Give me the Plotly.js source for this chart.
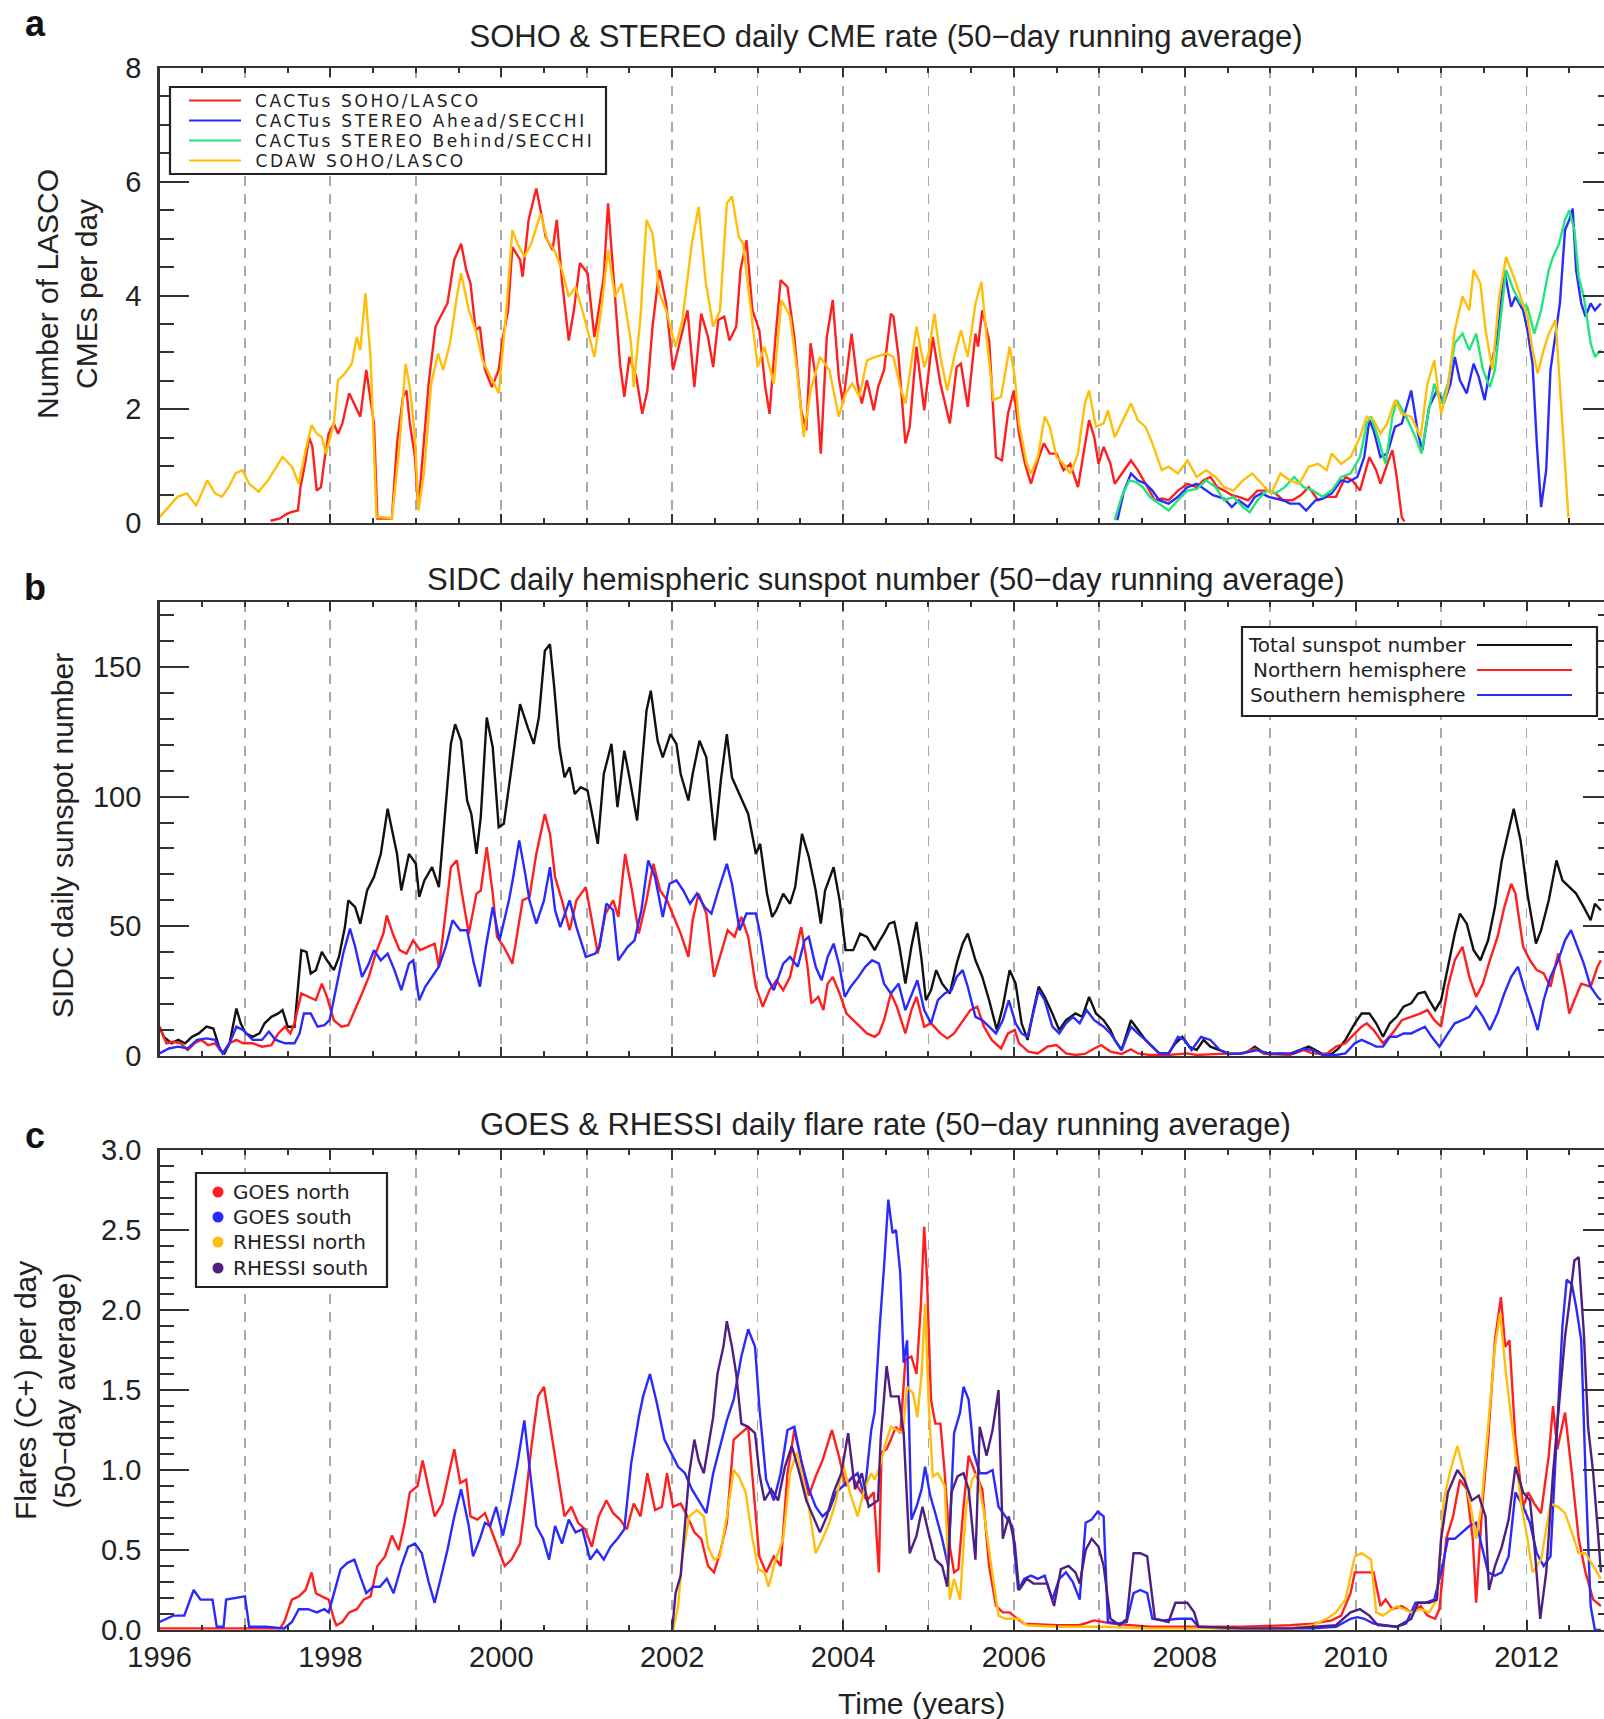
<!DOCTYPE html>
<html>
<head>
<meta charset="utf-8">
<script src="https://cdn.plot.ly/plotly-3.0.1.min.js"></script>
<style>
html, body { margin: 0; padding: 0; background: #fff; overflow: hidden; }
#chart { width: 1614px; height: 1719px; }
</style>
</head>
<body>
<div id="chart"></div>
<script>
// ---------------- Panel a: daily CME rate ----------------
const cactusSohoT = [1997.30,1997.41,1997.49,1997.54,1997.62,1997.65,1997.71,1997.75,1997.79,1997.84,1997.89,1997.93,1997.98,
1998.04,1998.09,1998.14,1998.22,1998.28,1998.35,1998.42,1998.47,1998.51,1998.55,1998.72,1998.78,1998.85,1998.89,1998.93,1998.99,
1999.03,1999.15,1999.23,1999.29,1999.37,1999.45,1999.53,1999.59,1999.64,1999.70,1999.75,1999.81,1999.89,1999.97,
2000.02,2000.08,2000.13,2000.22,2000.25,2000.32,2000.41,2000.46,2000.52,2000.60,2000.65,2000.71,2000.79,2000.85,2000.92,
2001.01,2001.09,2001.14,2001.20,2001.25,2001.31,2001.39,2001.44,2001.50,2001.58,2001.65,2001.71,2001.77,2001.85,2001.93,
2002.01,2002.10,2002.18,2002.26,2002.34,2002.42,2002.48,2002.54,2002.61,2002.67,2002.75,2002.80,2002.87,2002.94,
2003.02,2003.09,2003.14,2003.21,2003.27,2003.35,2003.43,2003.51,2003.57,2003.62,2003.68,2003.74,2003.81,2003.88,2003.95,
2004.00,2004.06,2004.10,2004.17,2004.22,2004.28,2004.36,2004.41,
2004.48,2004.56,2004.59,2004.65,2004.73,2004.78,2004.86,2004.95,
2005.05,2005.14,2005.25,2005.33,2005.38,2005.46,2005.55,2005.58,2005.63,2005.71,2005.79,2005.86,2005.93,
2006.00,2006.06,2006.13,2006.20,2006.28,2006.35,2006.42,2006.50,2006.58,2006.66,2006.75,2006.83,2006.88,2006.94,2006.99,
2007.05,2007.13,2007.18,2007.26,2007.37,2007.45,2007.54,2007.65,2007.73,2007.81,2007.92,
2008.03,2008.14,2008.22,2008.30,2008.38,2008.46,2008.55,2008.63,2008.74,2008.85,2008.96,
2009.06,2009.15,2009.26,2009.36,2009.45,2009.56,2009.66,2009.77,2009.88,2009.96,
2010.05,2010.16,2010.24,2010.29,2010.37,2010.43,2010.48,2010.54,2010.57];
const cactusSohoV = [0.04,0.08,0.16,0.19,0.22,0.63,1.10,1.51,1.34,0.57,0.63,1.10,1.57,
1.75,1.57,1.75,2.28,2.10,1.87,2.69,2.16,1.75,0.08,0.08,1.40,2.22,2.33,1.75,1.16,
0.25,2.45,3.45,3.63,3.86,4.63,4.91,4.45,4.21,3.39,3.45,2.69,2.39,2.69,
3.27,3.74,4.85,4.63,4.33,5.33,5.88,5.50,5.03,4.80,5.33,4.27,3.21,3.74,4.57,
4.39,3.27,3.74,4.33,5.62,4.45,2.80,2.22,2.92,2.57,1.92,2.33,3.45,4.45,3.86,
2.69,3.27,3.74,2.39,3.68,3.27,2.74,3.57,3.63,3.21,3.45,4.45,4.97,3.74,
3.39,2.39,1.92,3.27,4.27,4.15,3.27,1.98,1.63,3.16,2.57,1.22,3.27,3.92,2.57,
2.10,2.80,3.33,2.45,2.10,2.51,1.98,2.39,
2.69,3.68,3.63,2.92,1.40,1.69,3.10,1.98,
3.27,2.45,1.75,2.74,2.80,2.04,3.33,3.10,3.74,3.21,1.16,1.10,1.92,
2.33,1.57,1.04,0.69,1.10,1.40,1.22,1.22,0.93,1.04,0.63,1.34,1.81,1.51,1.04,
1.34,1.04,0.69,0.87,1.10,0.93,0.69,0.40,0.43,0.40,0.57,
0.69,0.63,0.75,0.81,0.63,0.57,0.49,0.46,0.40,0.57,0.57,
0.52,0.40,0.40,0.49,0.63,0.40,0.46,0.46,0.81,0.75,
0.57,1.16,0.93,0.69,1.04,1.28,0.81,0.10,0.03];

const stereoAT = [2007.21,2007.29,2007.37,2007.45,2007.54,2007.62,2007.70,2007.81,2007.92,
2008.03,2008.14,2008.22,2008.33,2008.46,2008.55,2008.63,2008.74,2008.82,2008.90,2008.98,
2009.06,2009.15,2009.23,2009.34,2009.42,2009.53,2009.61,2009.72,2009.83,2009.91,
2010.02,2010.10,2010.16,2010.21,2010.29,2010.37,2010.46,2010.54,2010.65,2010.73,2010.78,2010.86,2010.95,
2011.03,2011.11,2011.16,2011.22,2011.30,2011.38,2011.44,2011.51,2011.57,2011.66,2011.74,2011.82,2011.87,2011.96,
2012.01,2012.07,2012.12,2012.17,2012.23,2012.28,2012.34,2012.39,2012.45,2012.50,2012.54,2012.58,2012.64,2012.69,2012.75,2012.80,2012.87];
const stereoAV = [0.05,0.57,0.87,0.75,0.69,0.57,0.40,0.34,0.46,
0.63,0.69,0.60,0.49,0.43,0.28,0.40,0.28,0.46,0.52,0.46,
0.43,0.40,0.34,0.34,0.22,0.40,0.43,0.52,0.75,0.72,
0.81,1.16,1.81,1.63,1.16,1.22,1.69,1.75,2.33,1.57,1.28,2.04,2.33,
2.10,2.45,2.92,2.51,2.28,2.80,2.57,2.16,2.69,3.27,4.45,3.80,3.98,3.74,
3.39,2.80,1.40,0.28,0.93,2.69,3.33,3.86,5.15,5.33,5.53,4.45,3.86,3.63,3.86,3.74,3.86];

const stereoBT = [2007.18,2007.26,2007.35,2007.43,2007.51,2007.59,2007.70,2007.81,2007.92,
2008.03,2008.14,2008.25,2008.36,2008.46,2008.57,2008.68,2008.76,2008.85,2008.96,
2009.06,2009.17,2009.28,2009.39,2009.50,2009.61,2009.72,2009.83,2009.94,
2010.05,2010.13,2010.18,2010.26,2010.35,2010.43,2010.48,2010.59,2010.70,2010.77,2010.84,2010.92,
2011.00,2011.08,2011.16,2011.25,2011.33,2011.41,2011.49,2011.57,2011.63,2011.71,2011.76,2011.85,2011.93,
2012.01,2012.09,2012.17,2012.26,2012.31,2012.38,2012.45,2012.50,2012.56,2012.61,2012.67,2012.75,2012.80,2012.87];
const stereoBV = [0.05,0.46,0.75,0.72,0.63,0.46,0.34,0.22,0.40,
0.57,0.60,0.75,0.63,0.40,0.46,0.28,0.19,0.40,0.57,
0.52,0.63,0.81,0.63,0.57,0.46,0.57,0.81,0.87,
1.16,1.75,1.87,1.51,1.04,1.87,2.16,1.87,1.51,1.22,1.87,2.45,
2.10,2.45,3.16,3.33,3.04,3.33,2.69,2.39,2.69,3.74,4.45,4.09,3.86,
3.80,3.33,3.74,4.45,4.68,4.91,5.33,5.50,5.15,4.33,3.98,3.16,2.92,3.04];

const cdawT = [1996.00,1996.10,1996.21,1996.32,1996.43,1996.56,1996.65,1996.73,1996.81,1996.89,1996.97,
1997.05,1997.16,1997.27,1997.44,1997.55,1997.63,1997.71,1997.78,1997.84,1997.90,1997.95,
1998.04,1998.09,1998.17,1998.25,1998.31,1998.35,1998.41,1998.47,1998.54,1998.61,1998.72,1998.80,1998.88,1998.93,1998.99,
1999.03,1999.10,1999.18,1999.26,1999.32,1999.40,1999.48,1999.53,1999.62,1999.70,1999.78,1999.89,1999.97,
2000.05,2000.13,2000.19,2000.27,2000.35,2000.46,2000.54,2000.62,2000.71,2000.79,2000.87,2000.98,
2001.09,2001.17,2001.25,2001.33,2001.41,2001.52,2001.55,2001.63,2001.70,2001.77,2001.85,2001.93,
2002.04,2002.12,2002.23,2002.31,2002.39,2002.48,2002.56,2002.64,2002.70,2002.78,2002.83,2002.91,
2003.00,2003.08,2003.19,2003.28,2003.38,2003.46,2003.54,2003.62,2003.73,2003.84,2003.95,
2004.03,2004.11,2004.19,2004.28,2004.38,
2004.51,2004.59,2004.67,2004.73,2004.81,2004.86,2004.95,
2005.00,2005.07,2005.14,2005.22,2005.30,2005.38,2005.46,2005.55,2005.62,2005.68,2005.76,2005.85,2005.95,
2006.01,2006.06,2006.15,2006.20,2006.28,2006.36,2006.42,2006.50,2006.58,2006.66,2006.75,2006.83,2006.88,2006.96,
2007.05,2007.10,2007.18,2007.26,2007.37,2007.45,2007.54,2007.62,2007.73,2007.81,2007.92,
2008.03,2008.14,2008.25,2008.36,2008.46,2008.57,2008.68,2008.79,2008.90,
2009.01,2009.12,2009.23,2009.34,2009.45,2009.56,2009.66,2009.72,2009.83,2009.94,
2010.05,2010.13,2010.21,2010.29,2010.37,2010.46,2010.54,2010.65,2010.76,2010.84,2010.92,
2011.00,2011.08,2011.16,2011.25,2011.33,2011.38,2011.46,2011.52,2011.60,2011.68,2011.76,2011.85,2011.93,
2012.01,2012.07,2012.13,2012.20,2012.26,2012.34,2012.39,2012.45,2012.49];
const cdawV = [0.10,0.28,0.46,0.52,0.31,0.75,0.52,0.46,0.63,0.87,0.93,
0.69,0.55,0.75,1.16,0.99,0.69,1.28,1.72,1.57,1.51,1.22,
1.75,2.51,2.63,2.80,3.27,3.04,4.04,2.92,0.10,0.10,0.08,1.22,2.80,2.39,1.51,
0.22,0.93,2.45,2.98,2.69,3.16,3.98,4.39,3.74,3.39,2.86,2.51,2.28,
3.57,5.15,4.91,4.68,4.91,5.44,4.97,4.80,4.45,3.98,4.15,3.57,
2.92,3.74,4.80,3.98,4.21,3.16,2.39,3.63,5.33,5.09,4.04,3.74,
3.10,3.57,4.91,5.56,4.27,3.45,3.74,5.62,5.74,5.03,4.91,3.86,
2.74,3.10,2.45,3.92,3.63,2.69,1.51,2.33,2.92,2.69,1.87,
2.28,2.45,2.22,2.86,2.92,
2.98,2.92,2.39,2.10,2.92,3.45,2.74,
2.98,3.68,2.92,2.33,2.92,3.39,2.92,3.86,4.24,3.27,2.16,2.22,3.10,
2.57,1.75,1.04,0.87,1.16,1.87,1.69,1.16,1.04,0.87,1.22,2.10,2.33,1.69,
1.75,1.98,1.51,1.75,2.10,1.81,1.69,1.40,0.93,0.99,0.87,
1.10,0.81,0.93,0.81,0.63,0.57,0.75,0.87,0.69,
0.52,0.87,0.75,0.69,0.99,1.04,0.93,1.22,1.04,1.16,
1.51,1.87,1.81,1.57,1.75,2.16,1.92,1.87,1.51,2.45,2.86,
1.92,2.39,3.39,3.98,3.74,4.45,4.21,3.39,2.69,3.98,4.68,4.33,3.98,
3.63,3.04,2.63,3.04,3.33,3.57,2.39,0.93,0.10];

// ---------------- Panel b: sunspot numbers ----------------
const totalT = [1996.00,1996.05,1996.14,1996.22,1996.30,1996.38,1996.46,1996.55,1996.63,1996.71,1996.76,1996.82,1996.90,1996.95,
1997.01,1997.09,1997.17,1997.23,1997.31,1997.39,1997.44,1997.50,1997.58,1997.66,1997.72,1997.77,1997.83,1997.90,1997.96,
1998.04,1998.10,1998.17,1998.21,1998.29,1998.35,1998.43,1998.51,1998.59,1998.67,1998.73,1998.78,1998.83,1998.92,
1999.00,1999.04,1999.10,1999.19,1999.27,1999.32,1999.41,1999.46,1999.53,1999.60,1999.65,1999.71,1999.76,1999.83,1999.90,1999.97,
2000.03,2000.11,2000.22,2000.31,2000.38,2000.44,2000.51,2000.57,2000.62,2000.68,2000.74,2000.80,2000.86,2000.93,
2001.01,2001.07,2001.13,2001.20,2001.29,2001.36,2001.44,2001.50,2001.59,2001.70,2001.75,2001.83,2001.89,2001.98,
2002.05,2002.10,2002.19,2002.24,2002.32,2002.40,2002.50,2002.57,2002.64,2002.70,2002.79,2002.89,2002.98,
2003.03,2003.11,2003.17,2003.22,2003.30,2003.38,2003.44,2003.52,2003.60,2003.68,2003.74,2003.79,2003.89,2003.96,
2004.03,2004.12,2004.20,2004.28,2004.37,2004.42,
2004.48,2004.54,2004.60,2004.66,2004.73,2004.80,2004.86,2004.92,2004.97,
2005.03,2005.09,2005.16,2005.25,2005.33,2005.40,2005.46,2005.55,2005.63,2005.71,2005.80,2005.87,2005.95,
2006.02,2006.09,2006.16,2006.23,2006.29,2006.36,2006.45,2006.53,2006.61,2006.72,2006.80,2006.88,2006.96,
2007.05,2007.13,2007.18,2007.26,2007.37,2007.45,2007.54,2007.62,2007.70,2007.81,2007.89,2007.97,
2008.05,2008.14,2008.22,2008.30,2008.41,2008.52,2008.63,2008.74,2008.82,2008.90,
2009.01,2009.12,2009.23,2009.34,2009.45,2009.53,2009.61,2009.72,2009.80,2009.88,2009.99,
2010.07,2010.16,2010.24,2010.32,2010.40,2010.48,2010.56,2010.65,2010.73,2010.81,2010.86,2010.93,
2011.00,2011.08,2011.16,2011.22,2011.30,2011.38,2011.46,2011.55,2011.63,2011.71,2011.79,2011.85,2011.93,
2012.01,2012.11,2012.17,2012.26,2012.35,2012.42,2012.50,2012.58,2012.67,2012.75,2012.80,2012.87];
const totalV = [11.3,7.4,4.9,6.2,4.9,7.4,8.7,11.3,10.6,2.3,1.0,4.9,18.3,12.6,
8.7,7.4,8.7,12.6,15.1,16.4,17.7,11.3,11.3,40.8,40.1,31.8,33.1,40.1,36.9,
33.1,38.2,49.7,60.0,57.4,51.0,63.8,69.0,77.9,95.3,85.6,77.9,63.8,77.9,
74.1,61.3,67.7,72.8,65.1,85.6,120.3,127.9,121.5,98.5,93.3,77.9,92.1,130.5,119.0,88.2,
89.5,108.7,135.6,126.7,120.3,130.5,156.2,158.7,142.1,119.0,107.4,111.3,101.0,103.6,
102.3,92.1,81.8,108.7,120.3,95.9,117.7,107.4,90.8,133.1,140.8,121.5,115.1,124.1,
120.3,108.7,98.5,108.7,121.5,115.1,83.1,106.2,124.1,107.4,101.0,93.3,77.9,
81.8,62.6,53.6,56.2,62.6,58.7,65.1,85.6,76.7,63.8,51.0,63.8,72.8,60.0,
40.8,40.8,47.2,45.9,40.8,44.0,
47.2,51.0,51.7,42.1,27.9,42.1,51.7,36.9,21.5,
25.4,33.1,27.9,24.1,35.6,43.3,47.2,36.9,30.5,21.5,10.0,19.0,33.1,
27.9,12.6,6.2,17.7,26.7,22.8,16.4,10.0,13.8,16.4,15.1,22.8,16.4,
13.8,10.0,6.2,2.3,13.8,10.0,6.2,3.6,1.0,1.0,4.9,7.4,
3.6,2.3,6.2,3.6,2.3,0.8,0.8,1.7,3.6,1.7,
0.8,1.0,0.8,2.3,3.6,2.3,0.8,0.8,2.9,6.2,12.6,
16.4,16.4,12.6,7.4,12.6,15.1,19.0,20.3,24.1,24.7,21.5,17.7,
21.5,34.4,47.2,54.9,51.0,40.8,36.9,44.6,57.4,75.4,86.9,95.3,83.1,
62.6,43.3,48.5,60.0,75.4,67.7,65.1,62.6,57.4,52.3,58.7,56.2];

const northT = [1996.00,1996.08,1996.16,1996.25,1996.33,1996.41,1996.49,1996.57,1996.65,1996.74,1996.82,1996.90,1996.98,
1997.09,1997.20,1997.31,1997.39,1997.47,1997.53,1997.58,1997.66,1997.74,1997.83,1997.90,1997.96,
1998.04,1998.13,1998.21,1998.29,1998.37,1998.45,1998.53,1998.62,1998.66,1998.73,1998.81,1998.89,1998.97,
1999.05,1999.13,1999.22,1999.27,1999.32,1999.41,1999.48,1999.54,1999.62,1999.71,1999.76,1999.83,1999.90,1999.95,
2000.03,2000.13,2000.20,2000.25,2000.33,2000.41,2000.51,2000.57,2000.63,2000.71,2000.80,2000.88,2000.99,
2001.07,2001.13,2001.22,2001.31,2001.37,2001.45,2001.53,2001.61,2001.70,2001.78,2001.86,2001.94,
2002.02,2002.10,2002.19,2002.24,2002.31,2002.40,2002.49,2002.57,2002.65,2002.73,2002.81,2002.89,2002.98,
2003.06,2003.14,2003.22,2003.30,2003.38,2003.44,2003.51,2003.58,2003.63,2003.71,2003.77,2003.82,2003.88,2003.96,
2004.04,2004.12,2004.20,2004.28,2004.37,2004.42,
2004.48,2004.56,2004.63,2004.73,2004.80,2004.86,2004.95,
2005.03,2005.14,2005.22,2005.30,2005.41,2005.49,2005.57,2005.65,2005.74,2005.85,2005.93,
2006.01,2006.06,2006.17,2006.28,2006.39,2006.50,2006.61,2006.72,2006.83,2006.94,
2007.02,2007.13,2007.26,2007.37,2007.45,2007.59,2007.81,
2008.03,2008.14,2008.41,2008.68,2008.82,2008.93,
2009.23,2009.39,2009.50,2009.66,2009.77,2009.88,2009.99,
2010.07,2010.13,2010.21,2010.32,2010.43,2010.54,2010.65,2010.76,2010.84,2010.92,
2011.00,2011.08,2011.16,2011.25,2011.33,2011.41,2011.49,2011.57,2011.66,2011.74,2011.82,2011.87,2011.96,
2012.04,2012.12,2012.20,2012.28,2012.37,2012.45,2012.50,2012.56,2012.64,2012.75,2012.83,2012.87];
const northV = [11.3,4.9,5.5,4.9,2.3,4.9,6.2,4.2,4.9,1.0,4.9,6.2,4.9,
4.9,3.6,4.2,8.7,11.3,8.7,12.6,24.1,22.8,21.5,27.9,22.8,
13.8,11.3,11.9,17.7,24.1,30.5,39.5,47.2,54.2,47.2,40.8,39.5,44.6,
40.8,42.1,43.3,34.4,47.2,72.8,75.4,62.6,47.2,62.6,63.8,80.5,62.6,45.9,
42.1,35.6,49.7,60.0,61.3,77.9,93.3,85.6,69.0,60.0,48.5,60.0,65.1,
51.0,39.5,54.9,60.0,53.6,77.9,63.8,47.2,60.0,74.1,63.8,60.0,
53.6,47.2,38.2,52.3,62.6,54.9,30.5,39.5,48.5,45.9,53.6,45.9,26.7,
19.0,25.4,29.2,25.4,30.5,39.5,49.7,35.6,20.3,22.8,17.7,27.9,30.5,24.1,
16.4,13.8,11.3,8.7,7.4,8.7,
13.8,24.1,19.0,8.7,17.7,22.8,11.3,
12.6,8.7,6.8,8.7,13.8,17.7,19.0,11.3,6.2,2.9,8.7,
10.0,4.9,1.7,1.0,3.6,4.2,1.0,0.4,0.8,2.9,
4.2,1.7,0.8,2.6,1.0,0.4,0.4,
1.0,0.4,0.8,1.0,2.9,0.8,
0.4,2.3,1.0,0.8,3.6,4.9,8.7,
11.3,12.6,10.0,4.9,8.7,13.8,15.1,16.4,17.7,13.8,
11.3,26.7,36.9,42.1,30.5,22.8,27.9,36.9,45.9,57.4,66.4,62.6,42.1,
36.9,33.1,31.8,26.7,39.5,26.7,16.4,21.5,27.9,26.7,34.4,36.9];

const southT = [1996.00,1996.11,1996.22,1996.33,1996.44,1996.55,1996.65,1996.74,1996.82,1996.90,1996.98,
1997.09,1997.20,1997.28,1997.36,1997.47,1997.58,1997.64,1997.69,1997.77,1997.85,1997.93,1997.99,
1998.07,1998.15,1998.23,1998.29,1998.37,1998.45,1998.51,1998.59,1998.67,1998.75,1998.83,1998.92,1998.97,
1999.04,1999.11,1999.19,1999.27,1999.35,1999.43,1999.52,1999.60,1999.68,1999.75,1999.82,1999.90,1999.98,
2000.09,2000.14,2000.21,2000.28,2000.33,2000.41,2000.50,2000.57,2000.63,2000.69,2000.80,2000.88,2000.99,
2001.10,2001.15,2001.23,2001.31,2001.37,2001.48,2001.56,2001.64,2001.72,2001.80,2001.89,2001.97,
2002.05,2002.13,2002.21,2002.29,2002.38,2002.46,2002.54,2002.64,2002.70,2002.79,2002.87,2002.98,
2003.03,2003.11,2003.19,2003.30,2003.38,2003.47,2003.55,2003.60,2003.68,2003.75,2003.82,2003.89,2003.96,
2004.02,2004.09,2004.18,2004.26,2004.34,2004.42,
2004.48,2004.56,2004.65,2004.73,2004.81,2004.87,2004.95,
2005.03,2005.11,2005.19,2005.27,2005.33,2005.40,2005.46,2005.55,2005.63,2005.71,2005.79,2005.87,2005.94,
2006.02,2006.09,2006.16,2006.23,2006.29,2006.36,2006.45,2006.53,2006.61,2006.69,2006.77,2006.85,2006.94,
2007.05,2007.13,2007.18,2007.26,2007.37,2007.45,2007.54,2007.62,2007.70,2007.81,2007.92,
2008.00,2008.08,2008.19,2008.30,2008.41,2008.52,2008.68,2008.85,2008.96,
2009.12,2009.28,2009.39,2009.50,2009.61,2009.77,2009.88,2009.99,
2010.07,2010.16,2010.24,2010.32,2010.40,2010.48,2010.56,2010.65,2010.73,2010.81,2010.89,2010.98,
2011.08,2011.16,2011.25,2011.33,2011.41,2011.49,2011.57,2011.66,2011.74,2011.82,2011.90,2011.98,
2012.07,2012.13,2012.20,2012.28,2012.37,2012.45,2012.52,2012.58,2012.67,2012.75,2012.83,2012.87];
const southV = [1.0,2.9,3.6,2.9,6.2,6.8,6.2,1.0,4.9,11.3,10.0,
6.2,6.2,9.4,6.2,4.9,4.9,8.7,16.4,16.4,11.3,11.9,13.8,
26.7,39.5,49.1,42.1,30.5,35.6,40.8,36.9,39.5,33.1,25.4,35.6,36.9,
21.5,26.7,30.5,34.4,42.1,52.3,48.5,48.5,35.6,26.7,42.1,57.4,44.6,
60.0,69.0,83.1,70.3,60.0,51.0,60.0,72.8,56.2,49.7,60.0,49.7,38.2,
39.5,42.1,58.7,56.2,36.9,42.1,44.6,56.2,75.4,69.0,53.6,66.4,
67.7,63.8,58.7,62.6,57.4,54.9,63.8,74.1,66.4,48.5,54.9,54.9,
47.2,30.5,25.4,35.6,38.2,34.4,44.6,45.9,34.4,29.2,38.2,43.3,34.4,
22.8,26.7,30.5,34.4,36.9,35.6,
27.9,24.1,27.9,17.7,24.1,29.2,17.7,
12.6,21.5,24.1,25.4,30.5,33.1,26.7,15.1,13.8,11.3,8.7,13.8,21.5,
12.6,8.7,7.4,17.7,25.4,21.5,11.3,8.7,12.6,15.1,12.6,17.7,13.8,
11.3,8.7,6.2,2.3,11.3,8.7,6.2,3.6,1.0,0.8,7.4,
6.2,2.3,7.4,6.2,2.3,0.8,1.0,2.3,1.0,
0.8,1.0,2.9,2.3,0.4,0.4,1.0,4.9,
6.2,4.9,3.6,3.6,7.4,7.4,8.7,8.7,10.0,11.3,7.4,3.6,
8.7,12.6,13.8,15.1,19.0,15.1,10.0,16.4,24.1,30.5,34.4,25.4,
16.4,10.0,21.5,30.5,36.9,44.6,48.5,43.3,35.6,26.7,22.8,21.5];

// ---------------- Panel c: flare rates ----------------
const goesNorthT = [1996.00,1996.21,1996.43,1996.97,
1997.41,1997.46,1997.55,1997.63,1997.71,1997.78,1997.83,1997.90,1997.98,
1998.04,1998.07,1998.14,1998.22,1998.31,1998.39,1998.47,1998.55,1998.64,1998.72,1998.80,1998.87,1998.93,
1999.02,1999.08,1999.15,1999.22,1999.31,1999.37,1999.45,1999.52,1999.59,1999.64,1999.72,1999.81,1999.89,1999.97,
2000.04,2000.12,2000.22,2000.27,2000.35,2000.43,2000.50,2000.57,2000.65,2000.74,2000.82,2000.90,2000.98,
2001.06,2001.14,2001.23,2001.31,2001.39,2001.47,2001.55,2001.63,2001.71,2001.80,2001.88,2001.94,
2002.01,2002.10,2002.18,2002.26,2002.34,2002.42,2002.49,2002.56,2002.64,2002.72,2002.81,2002.89,2002.97,
2003.02,2003.10,2003.19,2003.27,2003.35,2003.43,2003.51,2003.60,2003.68,2003.76,2003.87,2003.95,
2004.03,2004.11,2004.19,2004.28,2004.36,
2004.42,2004.45,2004.51,2004.56,2004.62,2004.67,2004.73,2004.80,2004.86,2004.91,2004.95,2004.98,
2005.03,2005.08,2005.14,2005.19,2005.25,2005.30,2005.35,2005.41,2005.47,2005.55,2005.63,2005.71,2005.79,2005.87,2005.95,
2006.04,2006.12,2006.50,2006.77,2006.94,
2007.15,2007.59,2008.14,2008.68,2009.23,2009.50,2009.72,2009.83,2009.94,2009.99,
2010.07,2010.21,2010.29,2010.35,2010.43,2010.54,2010.65,2010.76,2010.84,2010.93,2010.98,
2011.06,2011.14,2011.22,2011.30,2011.37,2011.41,2011.48,2011.55,2011.63,2011.70,2011.75,2011.80,2011.87,2011.96,
2012.02,2012.09,2012.17,2012.26,2012.31,2012.36,2012.45,2012.53,2012.61,2012.69,2012.78,2012.87];
const goesNorthV = [0.01,0.01,0.01,0.01,
0.01,0.05,0.19,0.21,0.25,0.36,0.23,0.21,0.19,
0.07,0.03,0.05,0.11,0.13,0.19,0.21,0.40,0.46,0.59,0.50,0.67,0.86,
0.90,1.06,0.88,0.71,0.79,0.94,1.13,0.92,0.94,0.71,0.69,0.73,0.61,0.50,
0.40,0.44,0.54,0.75,1.13,1.46,1.52,1.29,1.00,0.71,0.77,0.67,0.63,
0.52,0.71,0.81,0.73,0.69,0.63,0.79,0.71,0.98,0.75,0.77,0.98,
0.77,0.79,0.71,0.61,0.57,0.40,0.36,0.48,0.67,1.19,1.23,1.27,0.77,
0.46,0.36,0.46,0.40,0.98,1.25,1.06,0.84,0.96,1.06,1.25,1.09,
0.90,0.96,0.88,0.81,0.86,
0.36,1.11,1.13,1.19,1.27,1.23,1.69,1.71,1.60,2.02,2.52,2.23,
1.44,1.29,1.29,0.98,0.52,0.36,0.38,0.77,1.09,0.98,0.88,0.40,0.15,0.11,0.11,
0.07,0.04,0.03,0.03,0.06,
0.04,0.02,0.02,0.02,0.03,0.04,0.06,0.09,0.23,0.36,
0.36,0.36,0.15,0.19,0.13,0.15,0.11,0.15,0.09,0.07,0.13,
0.57,0.71,0.94,0.88,0.57,0.17,0.77,1.19,1.81,2.08,1.77,1.81,1.19,0.77,
0.86,0.79,0.73,1.09,1.40,1.13,1.36,0.98,0.57,0.36,0.19,0.15];

const goesSouthT = [1996.00,1996.16,1996.29,1996.40,1996.48,1996.62,1996.67,1996.75,1996.78,1996.89,
1997.00,1997.05,1997.25,1997.46,1997.55,1997.63,1997.74,1997.84,1997.93,1997.98,
1998.04,1998.12,1998.20,1998.28,1998.36,1998.42,1998.50,1998.58,1998.66,1998.74,1998.83,1998.91,1998.99,
1999.07,1999.15,1999.22,1999.29,1999.37,1999.45,1999.53,1999.62,1999.67,1999.75,1999.81,1999.87,1999.94,
2000.02,2000.11,2000.19,2000.27,2000.33,2000.41,2000.49,2000.56,2000.63,2000.71,2000.79,2000.87,2000.95,
2001.04,2001.12,2001.20,2001.28,2001.36,2001.44,2001.52,2001.61,2001.66,2001.74,2001.82,2001.91,2001.99,
2002.07,2002.15,2002.23,2002.31,2002.40,2002.48,2002.56,2002.64,2002.72,2002.81,2002.89,2002.97,
2003.02,2003.10,2003.19,2003.27,2003.35,2003.43,2003.51,2003.60,2003.68,2003.76,2003.84,2003.92,
2004.00,2004.08,2004.17,2004.25,2004.33,
2004.37,2004.43,2004.48,2004.53,2004.58,2004.62,2004.67,2004.71,2004.75,2004.80,2004.86,2004.92,2004.96,
2005.02,2005.08,2005.16,2005.23,2005.30,2005.37,2005.41,2005.47,2005.53,2005.60,2005.68,2005.75,2005.82,2005.90,2005.98,
2006.05,2006.12,2006.20,2006.28,2006.36,2006.45,2006.53,2006.61,2006.69,2006.77,2006.84,2006.91,2006.98,
2007.05,2007.10,2007.21,2007.32,2007.40,2007.48,2007.56,2007.62,2007.75,2007.92,
2008.08,2008.16,2008.41,2008.96,2009.50,2009.77,2009.94,
2010.02,2010.10,2010.21,2010.32,2010.48,2010.59,2010.70,2010.81,2010.92,
2011.00,2011.08,2011.16,2011.25,2011.33,2011.41,2011.48,2011.55,2011.63,2011.71,2011.79,2011.87,2011.96,
2012.04,2012.12,2012.20,2012.28,2012.37,2012.42,2012.47,2012.53,2012.58,2012.64,2012.69,2012.75,2012.80,2012.87];
const goesSouthV = [0.05,0.09,0.09,0.25,0.19,0.19,0.02,0.02,0.19,0.20,
0.21,0.02,0.02,0.01,0.05,0.13,0.13,0.11,0.13,0.11,
0.23,0.38,0.42,0.44,0.32,0.23,0.27,0.27,0.32,0.23,0.40,0.52,0.54,
0.48,0.30,0.17,0.32,0.50,0.71,0.88,0.65,0.46,0.57,0.67,0.65,0.77,
0.59,0.81,1.04,1.31,1.02,0.65,0.57,0.44,0.65,0.54,0.69,0.61,0.63,
0.44,0.50,0.44,0.52,0.57,0.63,1.04,1.33,1.46,1.60,1.42,1.19,1.11,
1.02,0.98,0.88,0.81,0.73,0.98,1.15,1.31,1.44,1.71,1.88,1.77,
1.40,0.94,0.81,0.98,1.25,1.27,1.06,0.88,0.77,0.71,0.75,0.86,
0.90,0.94,0.98,0.84,1.25,
1.36,1.90,2.27,2.69,2.48,2.50,2.23,1.67,1.81,0.69,0.77,0.88,1.02,
0.84,0.73,0.57,0.40,1.23,1.36,1.52,1.44,1.11,0.98,0.98,1.00,0.77,0.71,0.65,
0.25,0.32,0.34,0.32,0.34,0.19,0.32,0.36,0.30,0.19,0.67,0.69,0.74,
0.71,0.05,0.04,0.05,0.23,0.25,0.23,0.07,0.06,0.07,
0.07,0.02,0.01,0.01,0.01,0.02,0.07,
0.08,0.07,0.04,0.03,0.02,0.04,0.17,0.17,0.19,
0.36,0.57,0.57,0.61,0.65,0.67,0.52,0.36,0.34,0.36,0.46,0.86,0.77,
0.67,0.48,0.40,0.46,1.44,1.90,2.19,2.16,2.02,1.81,0.98,0.15,0.00,0.00];

const rhessiNorthT = [2002.01,2002.07,2002.12,2002.20,2002.29,2002.37,2002.42,2002.49,2002.56,2002.64,2002.72,2002.78,2002.86,2002.94,
2003.01,2003.08,2003.13,2003.21,2003.30,2003.38,2003.46,2003.51,2003.60,2003.68,2003.76,2003.84,2003.92,
2004.00,2004.08,2004.17,2004.25,2004.33,
2004.37,2004.43,2004.51,2004.56,2004.63,2004.70,2004.75,2004.82,2004.87,2004.92,2004.96,
2005.00,2005.05,2005.11,2005.19,2005.25,2005.30,2005.37,2005.44,2005.51,2005.57,2005.65,2005.73,2005.82,2005.90,
2006.06,2006.15,2006.50,2007.05,2007.59,2008.14,2008.68,2009.23,2009.50,2009.66,2009.77,2009.88,2009.99,
2010.07,2010.18,2010.24,2010.32,2010.48,2010.65,2010.76,2010.86,2010.95,
2011.03,2011.11,2011.19,2011.27,2011.36,2011.41,2011.47,2011.55,2011.63,2011.69,2011.76,2011.85,2011.93,
2012.01,2012.07,2012.17,2012.28,2012.37,2012.45,2012.53,2012.61,2012.69,2012.78,2012.87];
const rhessiNorthV = [0.00,0.15,0.46,0.71,0.75,0.71,0.52,0.44,0.46,0.71,1.00,0.96,0.86,0.57,
0.38,0.36,0.27,0.44,0.57,0.98,1.11,0.98,0.77,0.48,0.57,0.67,0.81,
1.04,0.86,0.71,0.88,0.98,
0.94,1.02,1.19,1.27,1.25,1.23,1.52,1.48,1.33,1.60,2.04,
1.44,0.96,0.98,0.90,0.19,0.32,0.19,0.77,0.94,0.98,0.73,0.42,0.09,0.07,
0.07,0.03,0.02,0.02,0.01,0.01,0.01,0.01,0.03,0.07,0.11,0.19,0.46,
0.48,0.44,0.11,0.09,0.15,0.11,0.13,0.11,0.19,
0.81,1.00,1.15,0.98,0.73,0.57,0.77,1.27,1.77,1.98,1.60,1.19,0.81,
0.57,0.36,0.44,0.79,0.77,0.73,0.61,0.48,0.48,0.40,0.32];

const rhessiSouthT = [2002.00,2002.04,2002.10,2002.15,2002.20,2002.26,2002.31,2002.37,2002.42,2002.48,2002.53,2002.60,2002.64,2002.70,2002.75,2002.81,2002.89,2002.97,
2003.02,2003.08,2003.16,2003.24,2003.32,2003.40,2003.49,2003.57,2003.65,2003.73,2003.81,2003.89,2003.98,
2004.06,2004.14,2004.22,2004.30,2004.41,
2004.44,2004.51,2004.56,2004.65,2004.71,2004.78,2004.86,2004.93,
2005.00,2005.08,2005.16,2005.22,2005.27,2005.34,2005.41,2005.47,2005.55,2005.60,2005.68,2005.75,2005.82,2005.87,2005.94,
2006.01,2006.06,2006.15,2006.23,2006.31,2006.39,2006.47,2006.55,2006.64,2006.72,2006.77,2006.84,2006.91,2006.99,
2007.05,2007.13,2007.24,2007.32,2007.40,2007.48,2007.56,2007.65,2007.81,2007.89,
2008.03,2008.11,2008.16,2008.68,2009.23,2009.50,2009.77,2009.94,
2010.05,2010.16,2010.26,2010.48,2010.65,2010.73,2010.86,2010.95,
2011.00,2011.08,2011.19,2011.27,2011.36,2011.44,2011.52,2011.56,2011.63,2011.71,2011.79,2011.87,2011.96,
2012.04,2012.09,2012.16,2012.23,2012.31,2012.39,2012.45,2012.50,2012.56,2012.61,2012.67,2012.72,2012.78,2012.83,2012.87];
const rhessiSouthV = [0.00,0.23,0.34,0.65,0.98,1.19,1.06,0.98,1.15,1.33,1.60,1.77,1.93,1.77,1.60,1.29,1.27,1.23,
0.98,0.81,0.88,0.81,1.02,1.15,0.98,0.81,0.71,0.61,0.71,0.86,0.98,
1.23,0.88,0.98,0.77,0.81,
1.19,1.65,1.46,1.46,1.23,0.48,0.59,0.77,
0.61,0.44,0.40,0.27,0.86,0.96,0.98,0.88,0.44,1.27,1.09,1.25,1.50,0.57,0.71,
0.54,0.25,0.32,0.29,0.29,0.29,0.15,0.38,0.40,0.36,0.29,0.50,0.57,0.52,
0.40,0.07,0.03,0.07,0.48,0.48,0.46,0.07,0.05,0.17,
0.17,0.11,0.02,0.01,0.01,0.02,0.03,0.11,
0.13,0.09,0.03,0.02,0.07,0.17,0.17,0.19,
0.57,0.86,1.00,0.94,0.81,0.84,0.71,0.25,0.40,0.52,0.69,1.02,0.86,
0.81,0.54,0.07,0.36,0.98,1.48,1.83,2.04,2.31,2.33,1.86,1.27,0.98,0.65,0.36];

// ---------------- labels ----------------
const titleA = 'SOHO & STEREO daily CME rate (50\u2212day running average)';
const titleB = 'SIDC daily hemispheric sunspot number (50\u2212day running average)';
const titleC = 'GOES & RHESSI daily flare rate (50\u2212day running average)';
const yTitleA = 'Number of LASCO<br>CMEs per day';
const yTitleB = 'SIDC daily sunspot number';
const yTitleC = 'Flares (C+) per day<br>(50\u2212day average)';
const xTitle = 'Time (years)';
const legendA = ['CACTus SOHO/LASCO', 'CACTus STEREO Ahead/SECCHI', 'CACTus STEREO Behind/SECCHI', 'CDAW SOHO/LASCO'];
const legendB = ['Total sunspot number', 'Northern hemisphere', 'Southern hemisphere'];
const legendC = ['GOES north', 'GOES south', 'RHESSI north', 'RHESSI south'];

// ---------------- styling / geometry ----------------
const W = 1614, H = 1719;
const PX = p => p / W;
const PY = p => 1 - p / H;
const RED = '#ff1f1f', BLUE = '#2a2aff', GREEN = '#22e57a', GOLD = '#ffbe0a', PURPLE = '#4e1f82', BLACK = '#111111';
const AX = '#333333';
const FONT = 'Liberation Sans, Arial, Helvetica, sans-serif';
const LFONT = 'DejaVu Sans, Liberation Sans, sans-serif';
const LW = 2.4;
const LEG_A_SPACING = 2.6;   // extra letter spacing (px) for the wide legend of panel a

function line(t, v, color, xa, ya) {
  return { type: 'scatter', mode: 'lines', x: t, y: v, xaxis: xa, yaxis: ya,
           line: { color: color, width: LW }, hoverinfo: 'skip', showlegend: false };
}

const traces = [
  line(cactusSohoT, cactusSohoV, RED, 'x', 'y'),
  line(stereoAT, stereoAV, BLUE, 'x', 'y'),
  line(stereoBT, stereoBV, GREEN, 'x', 'y'),
  line(cdawT, cdawV, GOLD, 'x', 'y'),
  line(totalT, totalV, BLACK, 'x2', 'y2'),
  line(northT, northV, RED, 'x2', 'y2'),
  line(southT, southV, BLUE, 'x2', 'y2'),
  line(goesNorthT, goesNorthV, RED, 'x3', 'y3'),
  line(goesSouthT, goesSouthV, BLUE, 'x3', 'y3'),
  line(rhessiNorthT, rhessiNorthV, GOLD, 'x3', 'y3'),
  line(rhessiSouthT, rhessiSouthV, PURPLE, 'x3', 'y3'),
  { type: 'scatter', x: [], y: [], xaxis: 'x4', yaxis: 'y', showlegend: false, hoverinfo: 'skip' },
  { type: 'scatter', x: [], y: [], xaxis: 'x5', yaxis: 'y2', showlegend: false, hoverinfo: 'skip' },
  { type: 'scatter', x: [], y: [], xaxis: 'x6', yaxis: 'y3', showlegend: false, hoverinfo: 'skip' }
];

const xDomain = [PX(159.5), PX(1612)];
const tickFont = { family: FONT, size: 29, color: '#222' };

function xAxis(anchor, plotH, labels) {
  return {
    domain: xDomain, anchor: anchor, range: [1996, 2013],
    tick0: 1996, dtick: 2, tickformat: 'd',
    ticks: 'inside', ticklen: Math.round(plotH * 0.02), tickwidth: 2, tickcolor: AX,
    minor: { dtick: 0.5, ticks: 'inside', ticklen: Math.round(plotH * 0.01), tickwidth: 2, tickcolor: AX },
    showline: true, linecolor: AX, linewidth: 2.4, mirror: 'ticks',
    showgrid: false, zeroline: false,
    showticklabels: labels, tickfont: tickFont, ticklabelstandoff: 0
  };
}
function yAxis(anchor, dom, range, dtick, minorDtick, fmt) {
  return {
    domain: dom, anchor: anchor, range: range, tick0: 0, dtick: dtick, tickformat: fmt,
    ticks: 'inside', ticklen: 29, tickwidth: 2, tickcolor: AX,
    minor: { dtick: minorDtick, ticks: 'inside', ticklen: 14, tickwidth: 2, tickcolor: AX },
    showline: true, linecolor: AX, linewidth: 2.4, mirror: 'ticks',
    showgrid: false, zeroline: false,
    tickfont: tickFont, ticklabelstandoff: 10
  };
}
function gridAxis(over, anchor) {
  return {
    overlaying: over, anchor: anchor, range: [1996, 2013], tick0: 1996, dtick: 1,
    showgrid: true, gridcolor: '#a9a9a9', gridwidth: 1.8, griddash: '10px,8px',
    showticklabels: false, ticks: '', showline: false, zeroline: false
  };
}

const domA = [PY(523), PY(68)];
const domB = [PY(1056), PY(602)];
const domC = [PY(1630), PY(1150)];

const annotations = [];
function ann(text, x, y, opts) {
  annotations.push(Object.assign({
    text: text, x: PX(x), y: PY(y), xref: 'paper', yref: 'paper',
    showarrow: false, xanchor: 'center', yanchor: 'middle', borderpad: 0,
    font: { family: FONT, size: 30, color: '#222' }
  }, opts || {}));
}
const titleFont = { family: FONT, size: 31, color: '#222' };
// panel titles (b, c) and letters
ann(titleB, 886, 579, { font: titleFont });
ann(titleC, 886, 1124, { font: titleFont });
ann('<b>a</b>', 35, 24, { font: { family: FONT, size: 36, color: '#111' } });
ann('<b>b</b>', 35, 587, { font: { family: FONT, size: 36, color: '#111' } });
ann('<b>c</b>', 35, 1135, { font: { family: FONT, size: 36, color: '#111' } });
// axis titles
ann(yTitleA, 67, 294, { textangle: -90 });
ann(yTitleB, 62, 836, { textangle: -90 });
ann(yTitleC, 45, 1391, { textangle: -90 });
ann(xTitle, 921, 1703);

const shapes = [];
const legFont = { family: LFONT, size: 20, color: '#222' };
const legFontA = { family: LFONT, size: 17, color: '#222' };
// legend a
shapes.push({ type: 'rect', xref: 'paper', yref: 'paper', x0: PX(170), x1: PX(606), y0: PY(87), y1: PY(174),
              line: { color: '#222', width: 2.2 }, fillcolor: '#ffffff', layer: 'above' });
const rowsA = [100.5, 120.5, 140.5, 160.5];
const colA = [RED, BLUE, GREEN, GOLD];
legendA.forEach((t, i) => {
  shapes.push({ type: 'line', xref: 'paper', yref: 'paper', x0: PX(189), x1: PX(241), y0: PY(rowsA[i]), y1: PY(rowsA[i]),
                line: { color: colA[i], width: 2.2 }, layer: 'above' });
  // text grows symmetrically once spaced, so shift its anchor by half the added width
  ann(t, 254 + t.length * LEG_A_SPACING / 2, rowsA[i], { xanchor: 'left', font: legFontA });
});
// legend b
shapes.push({ type: 'rect', xref: 'paper', yref: 'paper', x0: PX(1242), x1: PX(1597), y0: PY(627), y1: PY(716),
              line: { color: '#222', width: 2.2 }, fillcolor: '#ffffff', layer: 'above' });
const rowsB = [645, 670, 695];
const colB = [BLACK, RED, BLUE];
legendB.forEach((t, i) => {
  shapes.push({ type: 'line', xref: 'paper', yref: 'paper', x0: PX(1477), x1: PX(1572), y0: PY(rowsB[i]), y1: PY(rowsB[i]),
                line: { color: colB[i], width: 2.2 }, layer: 'above' });
  ann(t, 1467, rowsB[i], { xanchor: 'right', font: legFont });
});
// legend c
shapes.push({ type: 'rect', xref: 'paper', yref: 'paper', x0: PX(196), x1: PX(387), y0: PY(1173), y1: PY(1287),
              line: { color: '#222', width: 2.2 }, fillcolor: '#ffffff', layer: 'above' });
const rowsC = [1192, 1217, 1242, 1268];
const colC = [RED, BLUE, GOLD, PURPLE];
legendC.forEach((t, i) => {
  shapes.push({ type: 'circle', xref: 'paper', yref: 'paper', x0: PX(212.5), x1: PX(223.5), y0: PY(rowsC[i] + 5.5), y1: PY(rowsC[i] - 5.5),
                line: { color: colC[i], width: 0 }, fillcolor: colC[i], layer: 'above' });
  ann(t, 232, rowsC[i], { xanchor: 'left', font: legFont });
});

const layout = {
  width: W, height: H,
  margin: { l: 0, r: 0, t: 0, b: 0, pad: 0 },
  paper_bgcolor: '#ffffff', plot_bgcolor: '#ffffff',
  showlegend: false,
  title: { text: titleA, x: PX(886), y: PY(36), xref: 'container', yref: 'container',
           xanchor: 'center', yanchor: 'middle', font: titleFont },
  xaxis: xAxis('y', 455, false),
  xaxis2: xAxis('y2', 454, false),
  xaxis3: xAxis('y3', 480, true),
  xaxis4: gridAxis('x', 'y'),
  xaxis5: gridAxis('x2', 'y2'),
  xaxis6: gridAxis('x3', 'y3'),
  yaxis: yAxis('x', domA, [0, 8], 2, 0.5, 'd'),
  yaxis2: yAxis('x2', domB, [0, 175], 50, 10, 'd'),
  yaxis3: yAxis('x3', domC, [0, 3], 0.5, 0.1, '.1f'),
  annotations: annotations,
  shapes: shapes
};

Plotly.newPlot('chart', traces, layout, { staticPlot: true, displayModeBar: false }).then(gd => {
  gd.querySelectorAll('.annotation-text').forEach(el => {
    if (legendA.indexOf(el.textContent) >= 0) el.style.letterSpacing = LEG_A_SPACING + 'px';
  });
});
</script>
</body>
</html>
